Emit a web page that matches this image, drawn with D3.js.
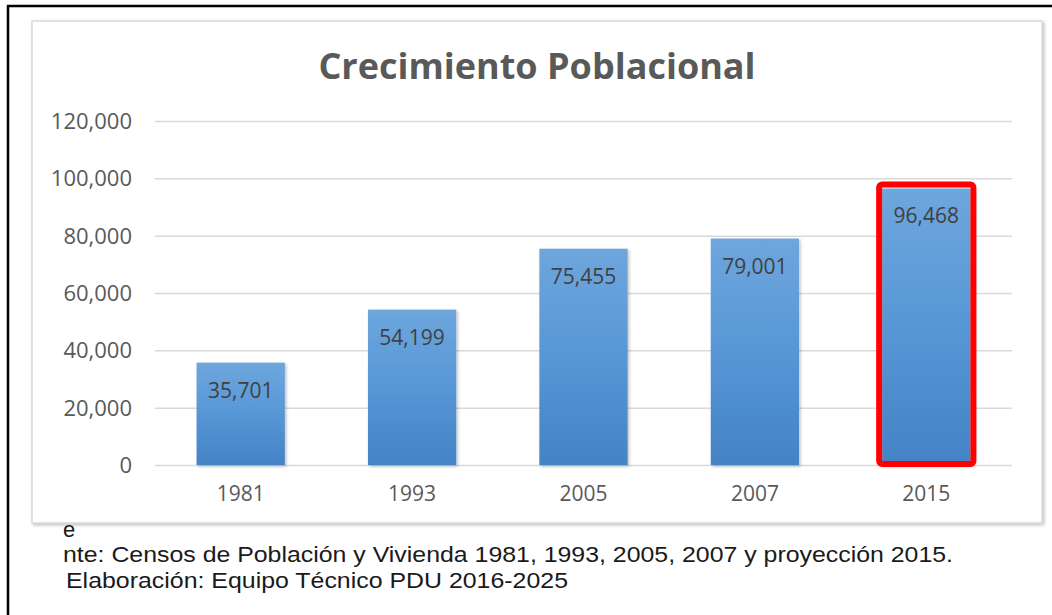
<!DOCTYPE html>
<html>
<head>
<meta charset="utf-8">
<script src="https://cdn.jsdelivr.net/npm/d3@7"></script>
<style>
  body { margin: 0; background: #fff; }
  .tick text { font-family: "Open Sans", sans-serif; font-size: 22px; fill: #595959; }
  .title { font-family: "Open Sans", sans-serif; font-weight: bold; font-size: 36px; fill: #595959; }
  .valueLabel { font-family: "Open Sans", sans-serif; font-size: 21px; fill: #404040; }
  .caption { font-family: "Liberation Sans", Arial, sans-serif; font-size: 22px; fill: #1a1a1a; }
</style>
</head>
<body>
<div id="chart"></div>
<script>
var years = ["1981", "1993", "2005", "2007", "2015"];
var population = [35701, 54199, 75455, 79001, 96468];
var yTicks = [0, 20000, 40000, 60000, 80000, 100000, 120000];
var highlightYear = "2015";
var captionLines = [
  "e",
  "nte: Censos de Población y Vivienda 1981, 1993, 2005, 2007 y proyección 2015.",
  "Elaboración: Equipo Técnico PDU 2016-2025"
];

var width = 1052, height = 615;
var plot = {left: 155, right: 1012, top: 121, bottom: 465};

var data = years.map(function(d, i) { return {year: d, value: population[i]}; });

var svg = d3.select("#chart")
  .append("svg")
  .attr("width", width)
  .attr("height", height);

var defs = svg.append("defs");

var grad = defs.append("linearGradient")
  .attr("id", "barGrad")
  .attr("x1", 0).attr("y1", 0).attr("x2", 0).attr("y2", 1);
grad.append("stop").attr("offset", "0%").attr("stop-color", "#6ea6dd");
grad.append("stop").attr("offset", "50%").attr("stop-color", "#5797d6");
grad.append("stop").attr("offset", "100%").attr("stop-color", "#4383c6");

var shadow = defs.append("filter")
  .attr("id", "shadow")
  .attr("x", "-10%").attr("y", "-10%").attr("width", "130%").attr("height", "130%");
shadow.append("feDropShadow")
  .attr("dx", 1.5).attr("dy", 1.5)
  .attr("stdDeviation", 1.5)
  .attr("flood-color", "#000")
  .attr("flood-opacity", 0.25);

// caption under the chart box (first line is partly hidden by the box)
svg.selectAll(".caption")
  .data(captionLines)
  .enter()
  .append("text")
  .attr("class", "caption")
  .attr("x", function(d, i) { return i == 2 ? 66 : 63; })
  .attr("y", function(d, i) { return [537, 562, 588][i]; })
  .attr("textLength", function(d, i) { return i == 1 ? 890 : (i == 2 ? 502 : null); })
  .attr("lengthAdjust", "spacingAndGlyphs")
  .text(function(d) { return d; });

// chart box
svg.append("rect")
  .attr("x", 32).attr("y", 21)
  .attr("width", 1010).attr("height", 502)
  .style("fill", "#fff")
  .style("stroke", "#d9d9d9")
  .style("stroke-width", 1.5)
  .attr("filter", "url(#shadow)");

// outer black frame
svg.append("line")
  .attr("x1", 7).attr("x2", width)
  .attr("y1", 6).attr("y2", 6)
  .style("stroke", "#000").style("stroke-width", 2.5);
svg.append("line")
  .attr("x1", 8).attr("x2", 8)
  .attr("y1", 5).attr("y2", height)
  .style("stroke", "#000").style("stroke-width", 2.5);

var x = d3.scaleBand()
  .domain(years)
  .range([plot.left, plot.right])
  .paddingInner(0.485)
  .paddingOuter(0.2425);

var y = d3.scaleLinear()
  .domain([0, 120000])
  .range([plot.bottom, plot.top]);

// gridlines + y labels
var yAxis = svg.append("g")
  .attr("class", "y axis")
  .attr("transform", "translate(" + plot.left + ",0)")
  .call(d3.axisLeft(y)
    .tickValues(yTicks)
    .tickFormat(d3.format(","))
    .tickSizeInner(-(plot.right - plot.left))
    .tickSizeOuter(0)
    .tickPadding(23));
yAxis.select(".domain").remove();
yAxis.selectAll(".tick line")
  .style("stroke", "#d9d9d9")
  .style("stroke-width", 1.5);
yAxis.selectAll(".tick text").attr("dy", "0.34em");

// x labels
var xAxis = svg.append("g")
  .attr("class", "x axis")
  .attr("transform", "translate(0," + plot.bottom + ")")
  .call(d3.axisBottom(x).tickSize(0).tickPadding(21));
xAxis.select(".domain").remove();
xAxis.selectAll(".tick text").style("font-size", "21px");

// title
svg.append("text")
  .attr("class", "title")
  .attr("x", 537)
  .attr("y", 79)
  .style("text-anchor", "middle")
  .text("Crecimiento Poblacional");

// bars
svg.selectAll(".bar")
  .data(data)
  .enter()
  .append("rect")
  .attr("class", "bar")
  .attr("x", function(d) { return x(d.year); })
  .attr("width", x.bandwidth())
  .attr("y", function(d) { return y(d.value); })
  .attr("height", function(d) { return plot.bottom - y(d.value); })
  .style("fill", "url(#barGrad)")
  .attr("filter", "url(#shadow)");

svg.selectAll(".valueLabel")
  .data(data)
  .enter()
  .append("text")
  .attr("class", "valueLabel")
  .attr("x", function(d) { return x(d.year) + x.bandwidth() / 2; })
  .attr("y", function(d) { return y(d.value) + 35; })
  .style("text-anchor", "middle")
  .text(function(d) { return d3.format(",")(d.value); });

// red highlight box round the last bar
var hl = data.filter(function(d) { return d.year == highlightYear; })[0];
svg.append("rect")
  .attr("x", x(hl.year) - 3)
  .attr("y", y(hl.value) - 4)
  .attr("width", x.bandwidth() + 6)
  .attr("height", plot.bottom - y(hl.value) + 3)
  .attr("rx", 3)
  .style("fill", "none")
  .style("stroke", "#ff0000")
  .style("stroke-width", 6);
</script>
</body>
</html>
